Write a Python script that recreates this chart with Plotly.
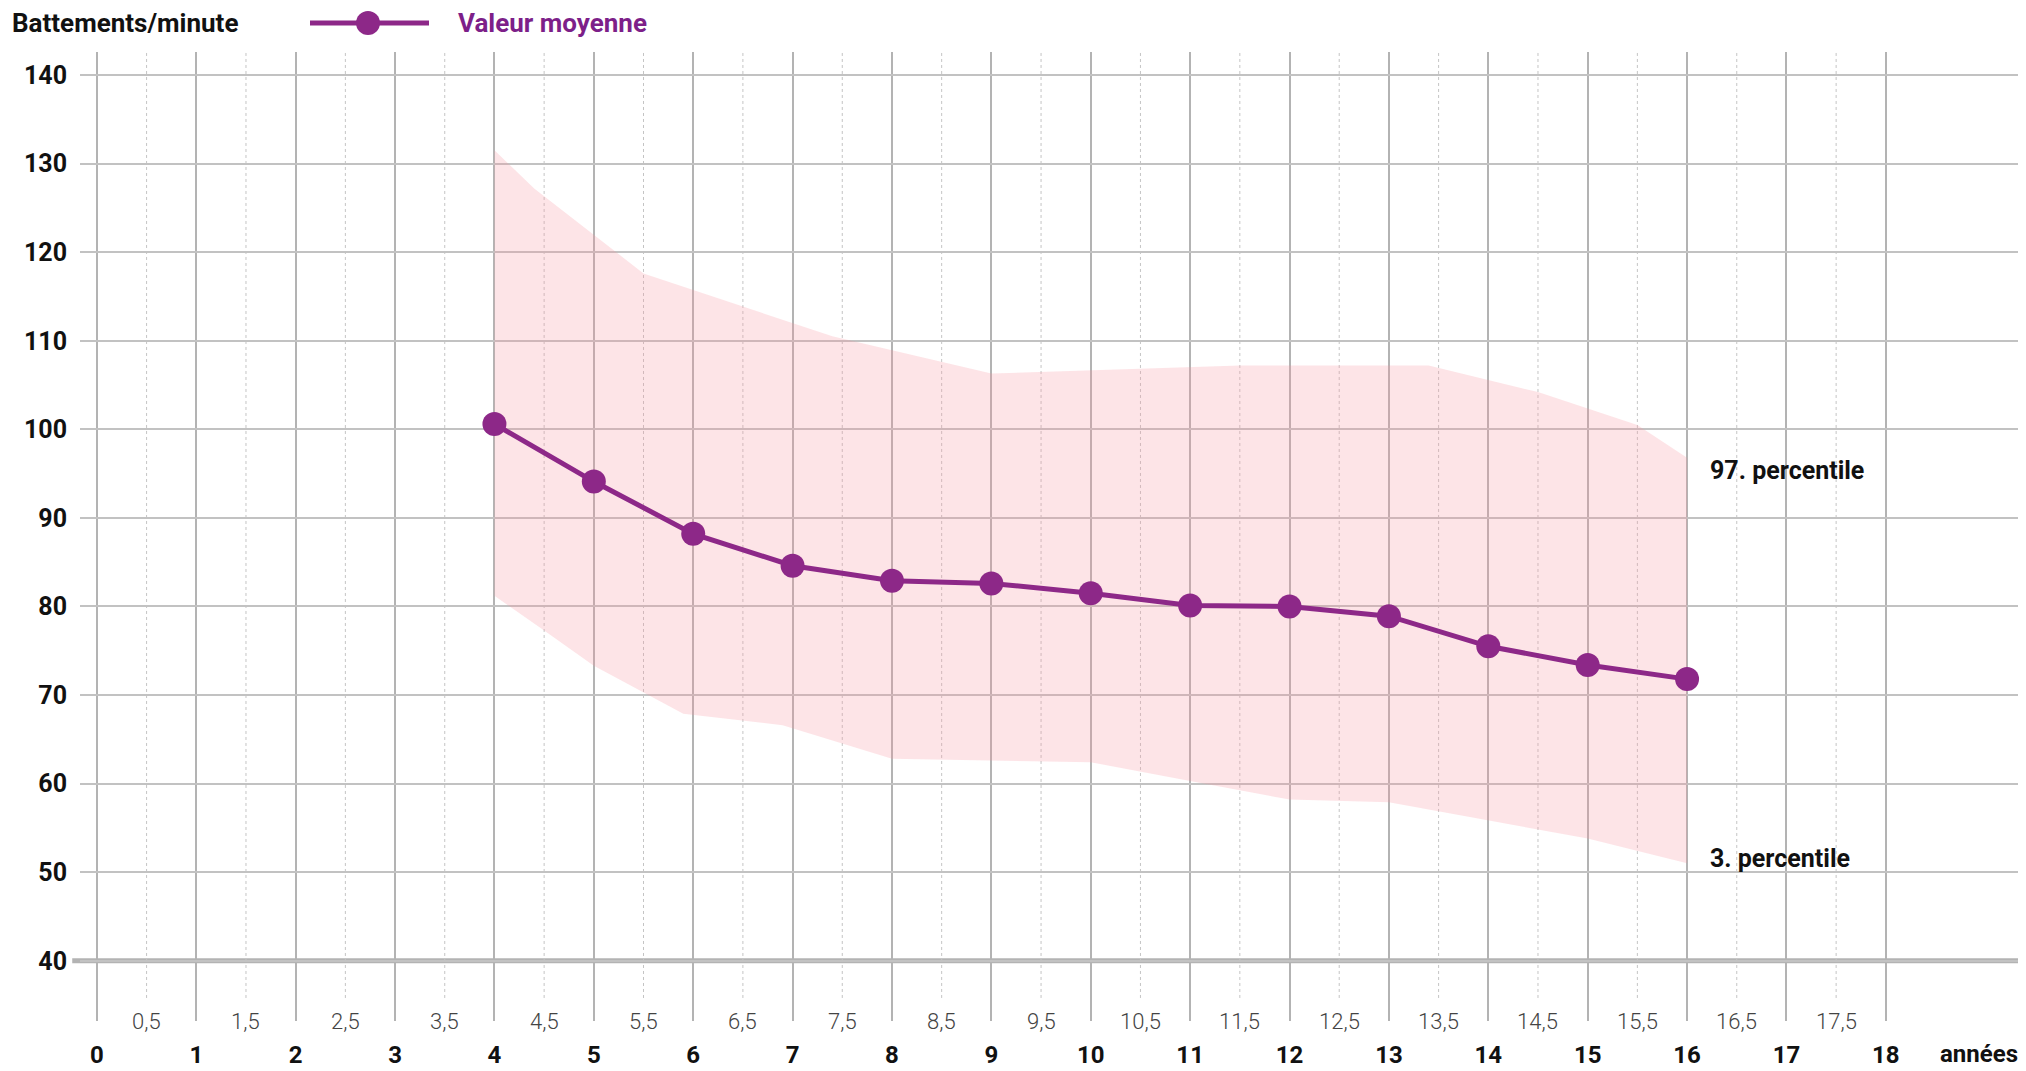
import plotly.graph_objects as go

# ---- data ----
ages = [4, 5, 6, 7, 8, 9, 10, 11, 12, 13, 14, 15, 16]
mean_bpm = [100.6, 94.1, 88.2, 84.6, 82.9, 82.6, 81.5, 80.1, 80.0, 78.9, 75.5, 73.4, 71.8]

p97_x = [4, 4.4, 5.5, 7.4, 9, 11.5, 13.4, 14.5, 15.5, 16]
p97_y = [131.5, 127.2, 117.6, 110.5, 106.3, 107.2, 107.2, 104.2, 100.5, 96.8]

p3_x = [4, 4.5, 5, 5.9, 6.9, 8, 10, 11, 12, 13, 15, 16]
p3_y = [81.2, 77.3, 73.3, 67.9, 66.6, 62.8, 62.4, 60.3, 58.2, 57.9, 53.8, 51.0]

major_ticks = list(range(0, 19))
major_labels = [str(v) for v in major_ticks]
half_ticks = [v + 0.5 for v in range(0, 18)]
half_labels = [f"{int(v)},5" for v in half_ticks]
y_ticks = list(range(40, 141, 10))

y_title = "Battements/minute"
x_title = "années"
legend_label = "Valeur moyenne"
label_p97 = "97. percentile"
label_p3 = "3. percentile"

# ---- styles ----
PURPLE = "#8d2888"
LEG_TXT = "#7d1f89"
FONT = "Roboto"
X_MIN, X_MAX = -0.17, 19.35
Y_MIN, Y_MAX = 33.2, 142.6
W, H = 2018, 1063
L, R, T, B = 72, 6, 44, 50
PW = W - L - R
PH = H - T - B

fig = go.Figure()

# percentile band
fig.add_trace(go.Scatter(
    x=p97_x + p3_x[::-1],
    y=p97_y + p3_y[::-1],
    fill="toself",
    fillcolor="rgba(247,150,162,0.26)",
    line=dict(width=0),
    mode="lines",
    hoverinfo="skip",
    showlegend=False,
))

# mean line
fig.add_trace(go.Scatter(
    x=ages, y=mean_bpm,
    mode="lines+markers",
    line=dict(color=PURPLE, width=5),
    marker=dict(color=PURPLE, size=24),
    name=legend_label,
    showlegend=False,
))

shapes = []
for v in half_ticks:
    shapes.append(dict(type="line", xref="x", yref="y", x0=v, x1=v, y0=35.8, y1=Y_MAX,
                       line=dict(color="#c4c4c4", width=1, dash="dot"), layer="below"))
shapes.append(dict(type="line", xref="paper", yref="y", x0=-0.004, x1=1, y0=40, y1=40,
                   line=dict(color="#b3b3b3", width=5), layer="below"))
leg_y = 1 + 29 / PH
shapes.append(dict(type="line", xref="paper", yref="paper",
                   x0=(310 - 80) / PW, x1=(429 - 80) / PW, y0=leg_y, y1=leg_y,
                   line=dict(color=PURPLE, width=5)))
shapes.append(dict(type="circle", xref="paper", yref="paper",
                   xsizemode="pixel", ysizemode="pixel",
                   xanchor=(368 - 80) / PW, yanchor=leg_y,
                   x0=-12, x1=12, y0=-12, y1=12,
                   fillcolor=PURPLE, line=dict(width=0)))

annotations = []
for v, t in zip(half_ticks, half_labels):
    annotations.append(dict(x=v, y=Y_MIN, xref="x", yref="y", text=t, showarrow=False,
                            xanchor="center", yanchor="middle",
                            font=dict(family=FONT, size=22, color="#444444", weight=300)))
annotations.append(dict(x=X_MAX, xref="x", y=0, yref="paper", yshift=-33,
                        text=f"<b>{x_title}</b>", showarrow=False,
                        xanchor="right", yanchor="middle",
                        font=dict(family=FONT, size=24, color="#111111")))
annotations.append(dict(x=0, xref="paper", xshift=-70, y=1, yref="paper", yshift=29,
                        text=f"<b>{y_title}</b>", showarrow=False,
                        xanchor="left", yanchor="middle",
                        font=dict(family=FONT, size=26, color="#111111")))
annotations.append(dict(x=(456 - 80) / PW, xref="paper", y=1, yref="paper", yshift=29,
                        text=f"<b>{legend_label}</b>", showarrow=False,
                        xanchor="left", yanchor="middle",
                        font=dict(family=FONT, size=26, color=LEG_TXT)))
annotations.append(dict(x=16.21, y=95.4, xref="x", yref="y", text=f"<b>{label_p97}</b>",
                        showarrow=False, xanchor="left", yanchor="middle",
                        font=dict(family=FONT, size=25, color="#111111")))
annotations.append(dict(x=16.21, y=51.5, xref="x", yref="y", text=f"<b>{label_p3}</b>",
                        showarrow=False, xanchor="left", yanchor="middle",
                        font=dict(family=FONT, size=25, color="#111111")))

fig.update_layout(
    width=W, height=H,
    margin=dict(l=L, r=R, t=T, b=B),
    paper_bgcolor="white", plot_bgcolor="white",
    showlegend=False,
    shapes=shapes,
    annotations=annotations,
    xaxis=dict(range=[X_MIN, X_MAX], tickmode="array", tickvals=major_ticks,
               ticktext=[f"<b>{t}</b>" for t in major_labels],
               showgrid=True, gridcolor="#b3b3b3", gridwidth=2,
               zeroline=False, showline=False, ticks="", automargin=False,
               ticklabelstandoff=17,
               tickfont=dict(family=FONT, size=24, color="#111111")),
    yaxis=dict(range=[Y_MIN, Y_MAX], tickmode="array", tickvals=y_ticks,
               ticktext=[f"<b>{v}</b>" for v in y_ticks],
               showgrid=True, gridcolor="#c2c2c2", gridwidth=1.5,
               zeroline=False, showline=False, ticks="", automargin=False,
               ticklabelstandoff=12,
               tickfont=dict(family=FONT, size=25, color="#111111")),
)

fig.write_html("out.html")
